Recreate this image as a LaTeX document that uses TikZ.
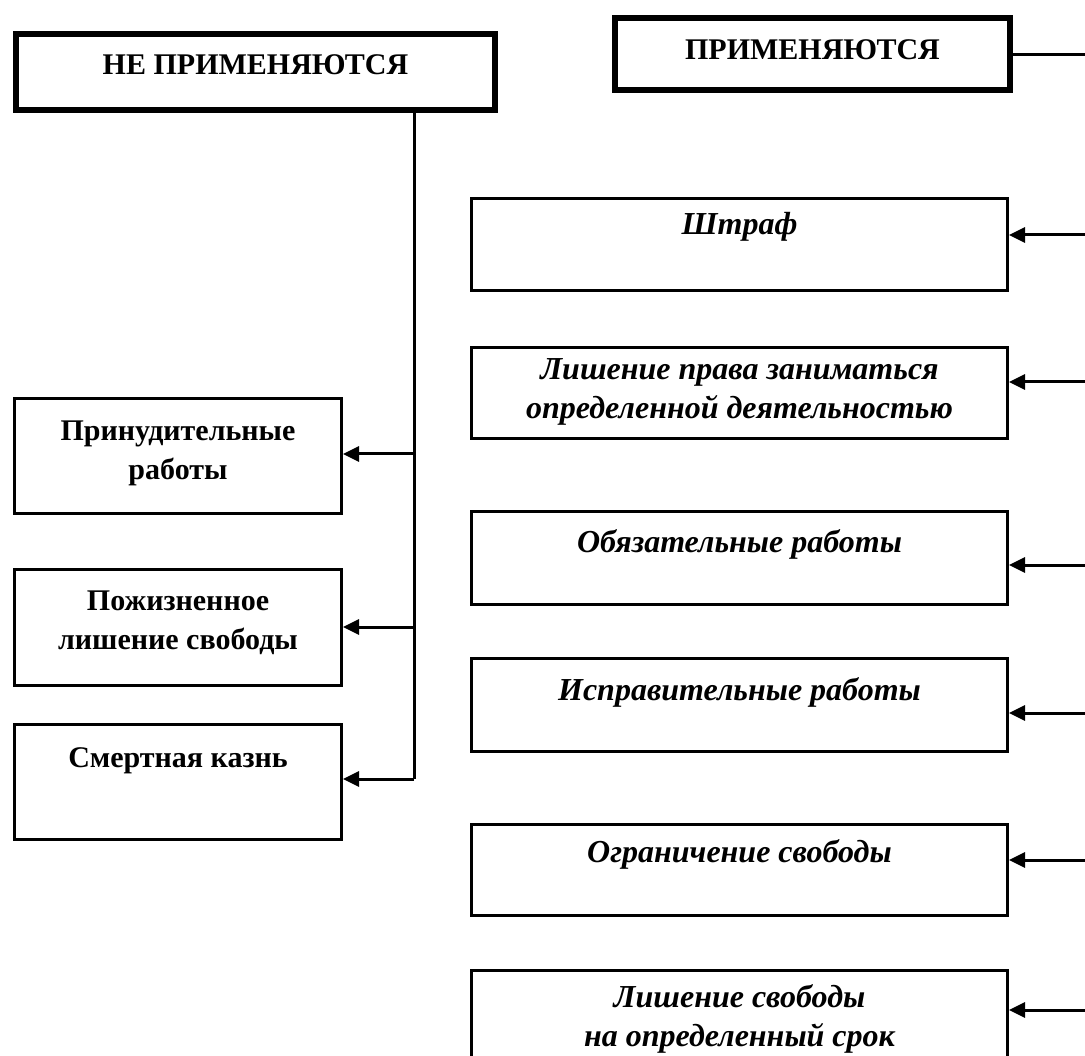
\documentclass[tikz,border=0pt]{standalone}
\usepackage{fontspec}
\setmainfont{Liberation Serif}
\usetikzlibrary{arrows.meta}
% width, height, top gap, text
\newcommand{\celltext}[4]{\parbox[c][#2pt][t]{#1pt}{\centering\vspace*{#3pt}\strut #4}}

\begin{document}
\begin{tikzpicture}[
  x=1pt, y=-1pt,
  hbox/.style={draw, line width=6pt, inner sep=0pt, anchor=north west, font=\fontsize{30}{39}\selectfont\bfseries},
  lbox/.style={draw, line width=3pt, inner sep=0pt, anchor=north west, font=\fontsize{30}{39}\selectfont\bfseries},
  rbox/.style={draw, line width=3pt, inner sep=0pt, anchor=north west, font=\fontsize{32}{39}\selectfont\bfseries\itshape},
  conn/.style={line width=3pt},
  arr/.style={-{Triangle[length=16pt,width=15pt]}, line width=3pt}
]
\useasboundingbox (0,0) rectangle (1085,1056);

% headers
\node[hbox] (none) at (13,31) {\celltext{479}{76}{13.7}{НЕ ПРИМЕНЯЮТСЯ}};
\node[hbox] (used) at (612,15.5) {\celltext{395}{72}{13.7}{ПРИМЕНЯЮТСЯ}};

% left column
\node[lbox] (forced) at (13,397) {\celltext{327}{115}{14.7}{Принудительные\\работы}};
\node[lbox] (life) at (13,568) {\celltext{327}{116}{13.7}{Пожизненное\\лишение свободы}};
\node[lbox] (death) at (13,723) {\celltext{327}{115}{15.7}{Смертная казнь}};

% right column
\node[rbox] (fine) at (470,197) {\celltext{536}{92}{8.7}{Штраф}};
\node[rbox] (right) at (470,346) {\celltext{536}{91}{4.7}{Лишение права заниматься\\определенной деятельностью}};
\node[rbox] (comp) at (470,510) {\celltext{536}{93}{13.7}{Обязательные работы}};
\node[rbox] (corr) at (470,657) {\celltext{536}{93}{14.7}{Исправительные работы}};
\node[rbox] (restr) at (470,823) {\celltext{536}{91}{10.7}{Ограничение свободы}};
\node[rbox] (prison) at (470,969) {\celltext{536}{92}{9.7}{Лишение свободы\\на определенный срок}};

% left connectors
\coordinate (t1) at (414,454);
\coordinate (t2) at (414,627);
\coordinate (t3) at (414,779);
\draw[conn] (t3) -- (t3 |- none.south);
\draw[arr] (t1) -- (t1 -| forced.east);
\draw[arr] (t2) -- (t2 -| life.east);
\draw[arr] (t3) -- (t3 -| death.east);

% right connectors
\coordinate (e0) at (1085,51);
\coordinate (e1) at (1085,235);
\coordinate (e2) at (1085,382);
\coordinate (e3) at (1085,565);
\coordinate (e4) at (1085,713);
\coordinate (e5) at (1085,860);
\coordinate (e6) at (1085,1010);
\draw[conn] (used.east) -- (e0 |- used.east);
\draw[arr] (e1) -- (e1 -| fine.east);
\draw[arr] (e2) -- (e2 -| right.east);
\draw[arr] (e3) -- (e3 -| comp.east);
\draw[arr] (e4) -- (e4 -| corr.east);
\draw[arr] (e5) -- (e5 -| restr.east);
\draw[arr] (e6) -- (e6 -| prison.east);
\end{tikzpicture}
\end{document}
